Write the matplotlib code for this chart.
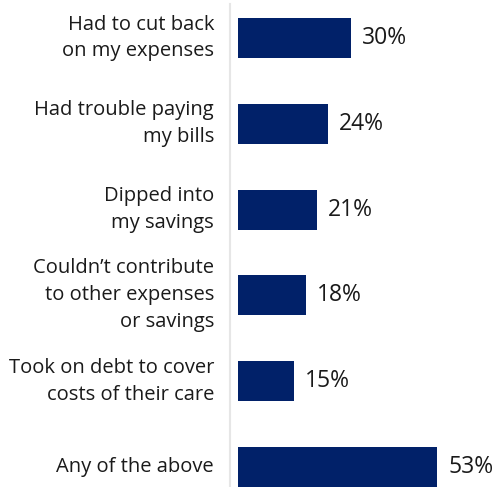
import matplotlib
matplotlib.use("Agg")
import matplotlib.pyplot as plt

categories = [
    "Had to cut back\non my expenses",
    "Had trouble paying\nmy bills",
    "Dipped into\nmy savings",
    "Couldn\u2019t contribute\nto other expenses\nor savings",
    "Took on debt to cover\ncosts of their care",
    "Any of the above",
]
values = [30, 24, 21, 18, 15, 53]

bar_color = "#012169"
text_color = "#1a1a1a"

plt.rcParams['font.family'] = ['Open Sans', 'DejaVu Sans']

fig = plt.figure(figsize=(5.0, 4.87), dpi=100)
ax = fig.add_axes([0.46, 0.0, 0.54, 483 / 487])

pos = list(range(len(values)))
ax.barh(pos, values, height=0.466, color=bar_color, left=0)

ax.set_xlim(-2.13, 69.7)
ax.set_ylim(5.233, -0.396)

for p, v in zip(pos, values):
    ax.annotate(f"{v}%", xy=(v, p), xytext=(11, 0), textcoords="offset pixels",
                ha="left", va="center", fontsize=16.5, color=text_color)

for p, c in zip(pos, categories):
    ax.annotate(c, xy=(0, p), xycoords=("axes fraction", "data"),
                xytext=(-16, 0), textcoords="offset pixels",
                ha="right", va="center", multialignment="right",
                fontsize=14.5, color=text_color, linespacing=1.46)

for s in ["top", "right", "bottom"]:
    ax.spines[s].set_visible(False)
ax.spines["left"].set_color("#e6e6e6")
ax.spines["left"].set_linewidth(1.5)
ax.set_xticks([])
ax.set_yticks([])

fig.savefig("out.png", dpi=100)
